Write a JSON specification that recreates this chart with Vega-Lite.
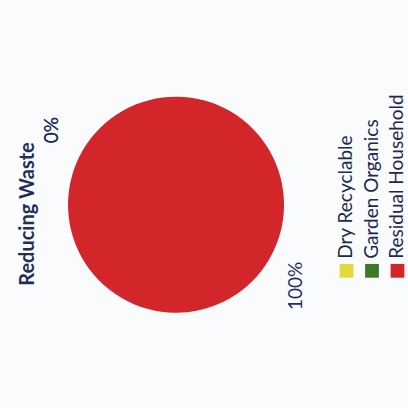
{
  "$schema": "https://vega.github.io/schema/vega-lite/v6.json",
  "width": 268,
  "height": 416,
  "autosize": "none",
  "padding": {"left": 40, "top": 0, "right": 100, "bottom": 0},
  "background": "#fafbfc",
  "title": {"text": "Reducing Waste", "orient": "left", "anchor": "middle", "font": "Lato", "fontSize": 20, "fontWeight": "bold", "color": "#1f2f5a", "offset": 2, "dx": -6},
  "data": {"values": [
    {"category": "Dry Recyclable", "share": 0},
    {"category": "Garden Organics", "share": 0},
    {"category": "Residual Household", "share": 1}
  ]},
  "encoding": {
    "theta": {"field": "share", "type": "quantitative", "stack": true, "scale": {"range": [-1.003, 5.28]}},
    "color": {
      "field": "category", "type": "nominal",
      "scale": {"domain": ["Dry Recyclable", "Garden Organics", "Residual Household"], "range": ["#e2d83c", "#3b7a2c", "#d2262a"]},
      "legend": {
        "orient": "none", "legendX": 297, "legendY": 261, "direction": "horizontal", "columns": 3,
        "title": null, "symbolType": "square", "symbolSize": 190, "symbolStrokeWidth": 0,
        "labelFont": "Lato", "labelFontSize": 19, "labelColor": "#1c2a50", "labelLimit": 0,
        "labelOffset": -10, "columnPadding": 5.5,
        "encode": {
          "labels": {"update": {"angle": {"value": 270}, "align": {"value": "left"}, "baseline": {"value": "middle"}, "dx": {"value": 12}}},
          "symbols": {"update": {"fill": {"signal": "datum.value === 'Residual Household' ? '#a8282c' : scale('color', datum.value)"}}}
        }
      }
    }
  },
  "layer": [
    {"mark": {"type": "arc", "radius": 108}},
    {"mark": {"type": "text", "radius": 145, "angle": 270, "font": "Lato", "fontSize": 19},
     "encoding": {"text": {"field": "share", "type": "quantitative", "format": ".0%"}, "color": {"value": "#1f2f5a"}}}
  ]
}
